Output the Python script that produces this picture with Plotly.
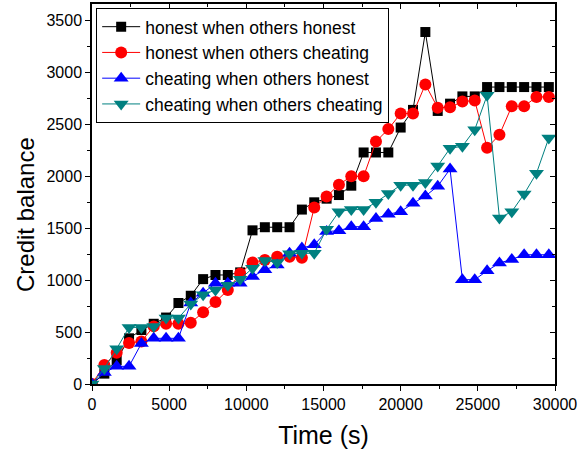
import plotly.graph_objects as go

time_s = [i * 800 for i in range(38)]

honest_others_honest = [0, 100, 230, 440, 520, 580, 640, 780, 850, 1010, 1050, 1050, 1075,
                        1480, 1510, 1510, 1510, 1680, 1750, 1785, 1820, 1910, 2230, 2230, 2230,
                        2470, 2640, 3390, 2630, 2700, 2770, 2770, 2860, 2860, 2860, 2860, 2860, 2860]
honest_others_cheating = [0, 183, 300, 395, 410, 555, 580, 580, 590, 690, 790, 905, 1065,
                          1170, 1195, 1225, 1225, 1215, 1700, 1805, 1920, 2000, 2000, 2335, 2455,
                          2605, 2605, 2885, 2660, 2665, 2720, 2730, 2275, 2400, 2675, 2675, 2765, 2765]
cheating_others_honest = [0, 110, 170, 170, 390, 440, 440, 440, 780, 875, 970, 970, 970,
                          1035, 1100, 1145, 1260, 1310, 1340, 1470, 1475, 1515, 1515, 1595, 1635,
                          1660, 1740, 1810, 1905, 2070, 1005, 1005, 1090, 1165, 1200, 1245, 1245, 1245]
cheating_others_cheating = [0, 150, 340, 545, 545, 555, 635, 635, 770, 860, 905, 950, 1010,
                            1115, 1190, 1170, 1255, 1260, 1260, 1490, 1660, 1680, 1680, 1750, 1835,
                            1915, 1915, 1940, 2100, 2270, 2290, 2450, 2780, 1600, 1660, 1830, 2030, 2370]

series = [
    ("honest when others honest", honest_others_honest, "#000000", "square", 10),
    ("honest when others cheating", honest_others_cheating, "#FF0000", "circle", 12),
    ("cheating when others honest", cheating_others_honest, "#0000FF", "triangle-up", 13),
    ("cheating when others cheating", cheating_others_cheating, "#008080", "triangle-down", 13),
]

FONT = "Liberation Sans, Arial, sans-serif"

fig = go.Figure()
for name, vals, color, sym, size in series:
    fig.add_trace(go.Scatter(
        x=time_s, y=vals, name=name, mode="lines+markers",
        line=dict(color=color, width=1),
        marker=dict(symbol=sym, size=size, color=color, line=dict(width=0)),
    ))

# invisible trace for the mirrored (top/right) axes
fig.add_trace(go.Scatter(x=[None], y=[None], xaxis="x2", yaxis="y2",
                         showlegend=False, hoverinfo="skip"))

XR = [0, 30000]
YR = [0, 3660]

fig.update_layout(
    width=581, height=453,
    margin=dict(l=92, r=26, t=4, b=69),
    paper_bgcolor="white", plot_bgcolor="white",
    font=dict(family=FONT, color="black", size=16),
    showlegend=True,
    legend=dict(
        x=0.009, y=0.99, xanchor="left", yanchor="top",
        bgcolor="white", bordercolor="black", borderwidth=1,
        font=dict(size=17.5, family=FONT, color="black"),
        itemwidth=38, tracegroupgap=0,
    ),
    xaxis=dict(
        range=XR, showgrid=False, zeroline=False,
        showline=True, linecolor="black", linewidth=1.5,
        ticks="outside", ticklen=5, tickwidth=1, tickcolor="black",
        tick0=0, dtick=5000, tickformat="d",
        minor=dict(ticks="outside", ticklen=3, dtick=2500, tickcolor="black", showgrid=False),
        tickfont=dict(size=16, family=FONT),
        title=dict(text="Time (s)", font=dict(size=25, family=FONT), standoff=15),
        automargin=False,
    ),
    yaxis=dict(
        range=YR, showgrid=False, zeroline=False,
        showline=True, linecolor="black", linewidth=1.5,
        ticks="outside", ticklen=5, tickwidth=1, tickcolor="black",
        tick0=0, dtick=500, tickformat="d",
        minor=dict(ticks="outside", ticklen=3, dtick=250, tickcolor="black", showgrid=False),
        tickfont=dict(size=16, family=FONT),
        automargin=False,
    ),
    xaxis2=dict(
        range=XR, overlaying="x", side="top", anchor="y",
        showgrid=False, zeroline=False, showticklabels=False, automargin=False,
        showline=True, linecolor="black", linewidth=1.5,
        ticks="inside", ticklen=5, tickcolor="black", tick0=0, dtick=5000,
        minor=dict(ticks="inside", ticklen=3, dtick=2500, tickcolor="black", showgrid=False),
    ),
    yaxis2=dict(
        range=YR, overlaying="y", side="right", anchor="x",
        showgrid=False, zeroline=False, showticklabels=False, automargin=False,
        showline=True, linecolor="black", linewidth=1.5,
        ticks="inside", ticklen=5, tickcolor="black", tick0=0, dtick=500,
        minor=dict(ticks="inside", ticklen=3, dtick=250, tickcolor="black", showgrid=False),
    ),
    annotations=[dict(
        text="Credit balance", textangle=-90, showarrow=False,
        xref="paper", yref="paper", x=-0.145, y=0.447,
        xanchor="center", yanchor="middle",
        font=dict(size=24, family=FONT, color="black"),
    )],
)

fig.write_html(
    "out.html",
    config={"displayModeBar": False},
    post_script="document.body.style.margin='0px';document.body.style.overflow='hidden';",
)
